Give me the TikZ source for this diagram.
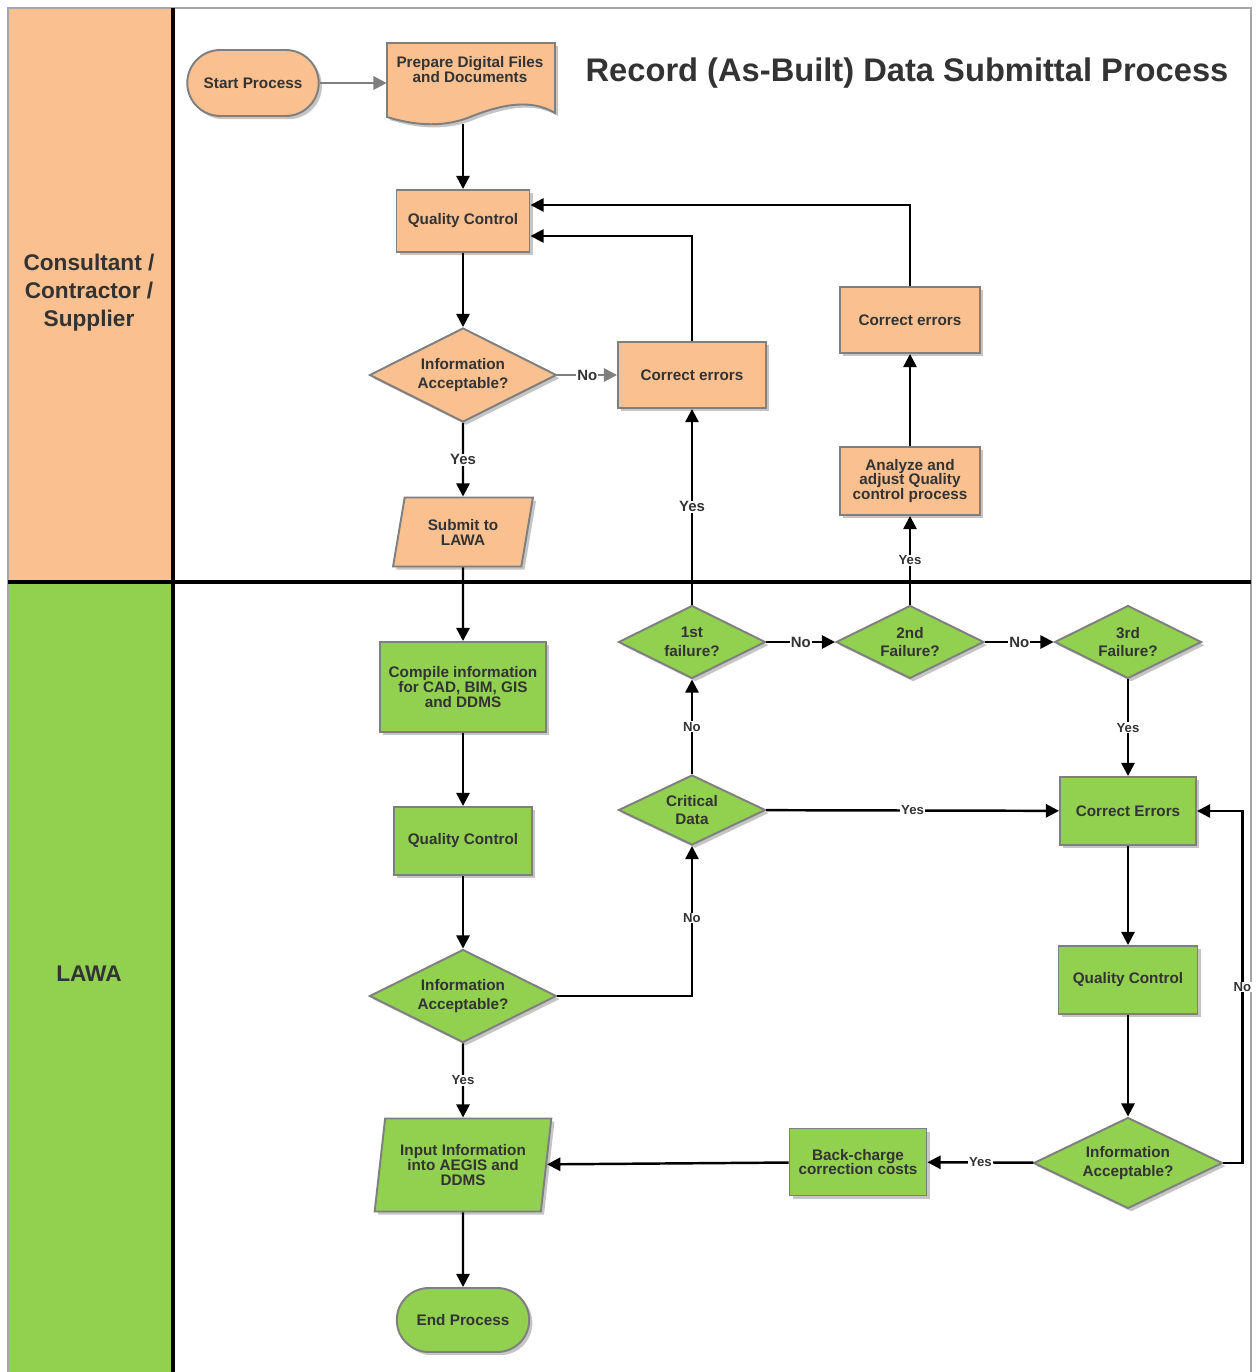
\documentclass[tikz,border=0pt]{standalone}
\usepackage{fontspec}
\setmainfont{Liberation Sans}
\usetikzlibrary{arrows.meta,shapes.geometric,shapes.misc,shadows}
\usetikzlibrary{positioning}
\definecolor{peach}{HTML}{FAC090}
\definecolor{leaf}{HTML}{92D050}
\definecolor{ink}{HTML}{333333}
\definecolor{rim}{HTML}{7F7F7F}
\definecolor{frame}{HTML}{A6A6A6}

\begin{document}
\begin{tikzpicture}[x=0.02cm,y=-0.02cm,
  >={Triangle[length=7.5pt,width=7.5pt]},
  base/.style={draw=rim,line width=1.1pt,text=ink,align=center,inner sep=1pt,
    font=\fontsize{8.7}{8.5}\selectfont\bfseries,
    drop shadow={shadow xshift=1.8pt,shadow yshift=-1.8pt,opacity=0.45}},
  task/.style={base,rectangle},
  term/.style={base,rounded rectangle},
  dec/.style={base,diamond,aspect=2,inner sep=0pt,font=\fontsize{8.7}{10.5}\selectfont\bfseries},
  io/.style={base,trapezium,trapezium left angle=76,trapezium right angle=104,trapezium stretches=true},
  peachbox/.style={fill=peach},
  leafbox/.style={fill=leaf},
  flow/.style={->,line width=1.4pt},
  gflow/.style={->,line width=1.4pt,draw=rim},
  lbl/.style={fill=white,inner sep=0.5pt,text=ink,font=\fontsize{8.5}{9}\selectfont\bfseries},
  slbl/.style={lbl,font=\fontsize{7.5}{8}\selectfont\bfseries},
  lanetxt/.style={text=ink,align=center,font=\fontsize{12.9}{16}\selectfont\bfseries}]
\useasboundingbox (0,0) rectangle (1257,1372);
\fill[white] (0,0) rectangle (1257,1372);
\fill[peach] (9,9) rectangle (172,582);
\fill[leaf] (9,582) rectangle (172,1372);
\draw[frame,line width=1.2pt] (8,1372) -- (8,8) -- (1251,8) -- (1251,1372);
\draw[line width=1.8pt] (8,582) -- (1251,582);
\draw[line width=2.3pt] (173,8) -- (173,1372);
\node[lanetxt](consult) at (89,293){Consultant /\\Contractor /\\Supplier};
\node[lanetxt](lawa) at (89,974){LAWA};
\node[text=ink,font=\fontsize{18.6}{20}\selectfont\bfseries](title) at (907,73){Record (As-Built) Data Submittal Process};

\node[term,peachbox,minimum width=2.7cm,minimum height=1.32cm](start) at (253,83){Start Process};
\filldraw[fill=peach,draw=rim,line width=1.1pt,drop shadow={shadow xshift=1.8pt,shadow yshift=-1.8pt,opacity=0.45}]
  (387,43) -- (555,43) -- (555,113) .. controls (530,98) and (500,105) .. (470,117)
  .. controls (440,129) and (410,124) .. (387,117) -- cycle;
\node[minimum width=3.36cm,minimum height=1.62cm,inner sep=0pt](prep) at (471,83){};
\node[text=ink,align=center,font=\fontsize{8.7}{8.5}\selectfont\bfseries](preptxt) at (470,70){Prepare Digital Files\\and Documents};
\node[task,peachbox,minimum width=2.66cm,minimum height=1.24cm](qc1) at (463,221){Quality Control};
\node[dec,peachbox,minimum width=3.74cm,minimum height=1.88cm](dec1) at (463,375){Information\\Acceptable?};
\node[task,peachbox,minimum width=2.96cm,minimum height=1.32cm](corr1) at (692,375){Correct errors};
\node[io,peachbox,minimum width=2.8cm,minimum height=1.38cm](submit) at (463,532){Submit to\\LAWA};
\node[task,peachbox,minimum width=2.8cm,minimum height=1.32cm](corr2) at (910,320){Correct errors};
\node[task,peachbox,minimum width=2.8cm,minimum height=1.36cm](analyze) at (910,481){Analyze and\\adjust Quality\\control process};

\node[task,leafbox,minimum width=3.32cm,minimum height=1.8cm](compile) at (463,687){Compile information\\for CAD, BIM, GIS\\and DDMS};
\node[task,leafbox,minimum width=2.76cm,minimum height=1.36cm](qc2) at (463,841){Quality Control};
\node[dec,leafbox,minimum width=3.74cm,minimum height=1.86cm](dec2) at (463,996){Information\\Acceptable?};
\node[io,leafbox,trapezium left angle=79,trapezium right angle=101,minimum width=3.56cm,minimum height=1.86cm](input) at (463,1165){Input Information\\into AEGIS and\\DDMS};
\node[term,leafbox,minimum width=2.72cm,minimum height=1.28cm](finish) at (463,1320){End Process};
\node[dec,leafbox,minimum width=2.94cm,minimum height=1.46cm](f1) at (692,642){1st\\failure?};
\node[dec,leafbox,minimum width=2.96cm,minimum height=1.46cm](f2) at (910,642){2nd\\Failure?};
\node[dec,leafbox,minimum width=2.94cm,minimum height=1.46cm](f3) at (1128,642){3rd\\Failure?};
\node[dec,leafbox,minimum width=2.94cm,minimum height=1.4cm](crit) at (692,810){Critical\\Data};
\node[task,leafbox,minimum width=2.72cm,minimum height=1.36cm](ce) at (1128,811){Correct Errors};
\node[task,leafbox,minimum width=2.78cm,minimum height=1.36cm](qc3) at (1128,980){Quality Control};
\node[dec,leafbox,minimum width=3.78cm,minimum height=1.82cm](dec3) at (1128,1163){Information\\Acceptable?};
\node[task,leafbox,minimum width=2.74cm,minimum height=1.34cm](back) at (858,1162){Back-charge\\correction costs};

\draw[gflow] (start.east) -- (start.east -| prep.west);
\draw[flow] (prep.south -| qc1.north) -- (qc1);
\draw[flow] (qc1) -- (dec1);
\draw[gflow] (dec1) -- node[lbl]{No} (corr1);
\draw[flow] (dec1) -- node[lbl]{Yes} (submit);
\draw[flow] (corr1) |- ([yshift=-0.3cm]qc1.east);
\draw[flow] (corr2) |- ([yshift=0.32cm]qc1.east);
\draw[flow] (analyze) -- (corr2);
\draw[flow] (f2) -- node[slbl]{Yes} (analyze);
\draw[flow] (f1) -- node[lbl]{Yes} (corr1);
\draw[flow] (submit) -- (compile);
\draw[flow] (compile) -- (qc2);
\draw[flow] (qc2) -- (dec2);
\draw[flow] (dec2) -| node[slbl,pos=0.76]{No} (crit);
\draw[flow] (crit) -- node[slbl]{No} (f1);
\draw[flow] (crit) -- node[slbl]{Yes} (ce);
\draw[flow] (f1) -- node[lbl]{No} (f2);
\draw[flow] (f2) -- node[lbl]{No} (f3);
\draw[flow] (f3) -- node[slbl]{Yes} (ce);
\draw[flow] (ce) -- (qc3);
\draw[flow] (qc3) -- (dec3);
\draw[flow] (dec3.east) -- ++(19,0) |- node[slbl,pos=0.25]{No} (ce.east);
\draw[flow] (dec3) -- node[slbl]{Yes} (back);
\draw[flow] (back) -- (input);
\draw[flow] (dec2) -- node[slbl]{Yes} (input);
\draw[flow] (input) -- (finish);
\end{tikzpicture}
\end{document}
